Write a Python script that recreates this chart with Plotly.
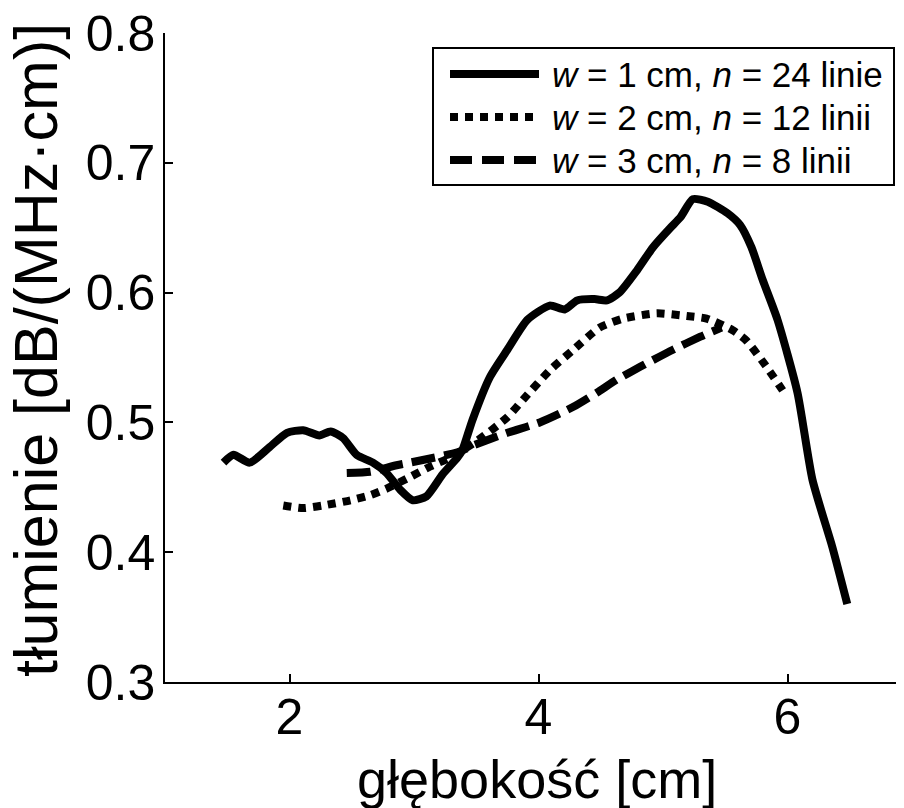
import plotly.graph_objects as go

# ---- data ----
solid_x = [1.47, 1.55, 1.68, 1.84, 1.98, 2.11, 2.24, 2.33, 2.43, 2.54, 2.67, 2.78, 2.89, 2.99, 3.10,
           3.23, 3.35, 3.39, 3.47, 3.61, 3.75, 3.91, 4.09, 4.21, 4.31, 4.45, 4.55, 4.65, 4.79, 4.92,
           5.06, 5.14, 5.24, 5.36, 5.52, 5.62, 5.71, 5.80, 5.92, 6.08, 6.20, 6.36, 6.48]
solid_y = [0.469, 0.475, 0.469, 0.481, 0.492, 0.494, 0.490, 0.493, 0.488, 0.475, 0.469, 0.461, 0.448, 0.440, 0.443,
           0.460, 0.473, 0.479, 0.502, 0.535, 0.556, 0.579, 0.590, 0.587, 0.594, 0.595, 0.594, 0.600, 0.617, 0.635,
           0.650, 0.658, 0.672, 0.670, 0.661, 0.652, 0.635, 0.610, 0.579, 0.523, 0.456, 0.404, 0.360]

dot_x = [1.95, 2.11, 2.27, 2.49, 2.65, 2.78, 2.97, 3.13, 3.29, 3.51, 3.75, 3.88, 4.09, 4.28, 4.49, 4.68,
         4.95, 5.19, 5.35, 5.56, 5.67, 5.83, 5.98]
dot_y = [0.436, 0.434, 0.436, 0.440, 0.444, 0.449, 0.458, 0.466, 0.473, 0.486, 0.504, 0.518, 0.540, 0.556,
         0.573, 0.580, 0.584, 0.582, 0.580, 0.571, 0.563, 0.543, 0.522]

dash_x = [2.46, 2.65, 2.86, 3.07, 3.35, 3.47, 3.75, 4.01, 4.28, 4.47, 4.63, 4.82, 5.08, 5.30, 5.47]
dash_y = [0.461, 0.462, 0.467, 0.471, 0.477, 0.482, 0.492, 0.500, 0.512, 0.523, 0.533, 0.543, 0.556, 0.566, 0.573]

series_names = ["<i>w</i> = 1 cm, <i>n</i> = 24 linie",
                "<i>w</i> = 2 cm, <i>n</i> = 12 linii",
                "<i>w</i> = 3 cm, <i>n</i> = 8 linii"]
x_ticks = [2, 4, 6]
y_ticks = [0.3, 0.4, 0.5, 0.6, 0.7, 0.8]
x_title = "głębokość [cm]"
y_title = "tłumienie [dB/(MHz·cm)]"

# ---- layout geometry (page has an 8px body margin) ----
OFF = 8
W, H = 904, 808
L, R, T, B = 157, 8, 25, 134
PW, PH = W - L - R, H - T - B
FONT = "Liberation Sans, Arial, sans-serif"

def px2paper(px, py):
    """page pixel -> paper coordinates"""
    fx, fy = px - OFF, py - OFF
    return (fx - L) / PW, (H - B - fy) / PH

dash_styles = ["solid", "8px,7px", "24px,9px"]
line_w = 8

fig = go.Figure()
for xs, ys, name, d in zip([solid_x, dot_x, dash_x], [solid_y, dot_y, dash_y], series_names, dash_styles):
    fig.add_trace(go.Scatter(x=xs, y=ys, mode="lines", name=name, showlegend=False,
                             line=dict(color="black", width=line_w, dash=d, shape="spline", smoothing=0.6)))

# ---- manual legend (box, samples, labels) ----
shapes = []
x0, y0 = px2paper(433, 48)
x1, y1 = px2paper(894, 185)
shapes.append(dict(type="rect", xref="paper", yref="paper", x0=x0, y0=y0, x1=x1, y1=y1,
                   line=dict(color="black", width=2), fillcolor="white", layer="above"))
annotations = []
row_y = [74, 117, 160]
for ry, name, d in zip(row_y, series_names, dash_styles):
    lx0, ly = px2paper(450, ry)
    lx1, _ = px2paper(539, ry)
    dd = d if d != "24px,9px" else "22px,10px"
    shapes.append(dict(type="line", xref="paper", yref="paper", x0=lx0, x1=lx1, y0=ly, y1=ly,
                       line=dict(color="black", width=line_w, dash=dd), layer="above"))
    tx, _ = px2paper(550, ry)
    annotations.append(dict(text=name, xref="paper", yref="paper", x=tx, y=ly, xanchor="left",
                            yanchor="middle", showarrow=False, font=dict(size=35, color="black", family=FONT)))

# axis titles as annotations for precise placement
tx, ty = px2paper(537, 779)
annotations.append(dict(text=x_title, xref="paper", yref="paper", x=tx, y=ty,
                        xanchor="center", yanchor="middle", showarrow=False,
                        font=dict(size=54, color="black", family=FONT)))
tx, ty = px2paper(36, 350)
annotations.append(dict(text=y_title, xref="paper", yref="paper", x=tx, y=ty,
                        xanchor="center", yanchor="middle", textangle=-90, showarrow=False,
                        font=dict(size=61, color="black", family=FONT)))

fig.update_layout(
    width=W, height=H,
    margin=dict(l=L, r=R, t=T, b=B, pad=0, autoexpand=False),
    paper_bgcolor="white", plot_bgcolor="white",
    shapes=shapes, annotations=annotations,
    showlegend=False,
    font=dict(family=FONT, color="black"),
)
fig.update_xaxes(range=[1, 1 + PW / 124.5], tickvals=x_ticks, ticktext=[str(v) for v in x_ticks],
                 ticks="inside", ticklen=8, tickwidth=1.5, tickcolor="black", automargin=False,
                 showline=True, linecolor="black", linewidth=1.5, showgrid=False, zeroline=False,
                 tickfont=dict(size=50, color="black", family=FONT), ticklabelstandoff=-10,
                 ticklabeloverflow="allow")
fig.update_yaxes(range=[0.3, 0.8], tickvals=y_ticks, ticktext=[f"{v:.1f}" for v in y_ticks],
                 ticks="inside", ticklen=8, tickwidth=1.5, tickcolor="black", automargin=False,
                 showline=True, linecolor="black", linewidth=1.5, showgrid=False, zeroline=False,
                 tickfont=dict(size=50, color="black", family=FONT), ticklabelstandoff=-2,
                 ticklabeloverflow="allow")

fig.write_html("out.html")
